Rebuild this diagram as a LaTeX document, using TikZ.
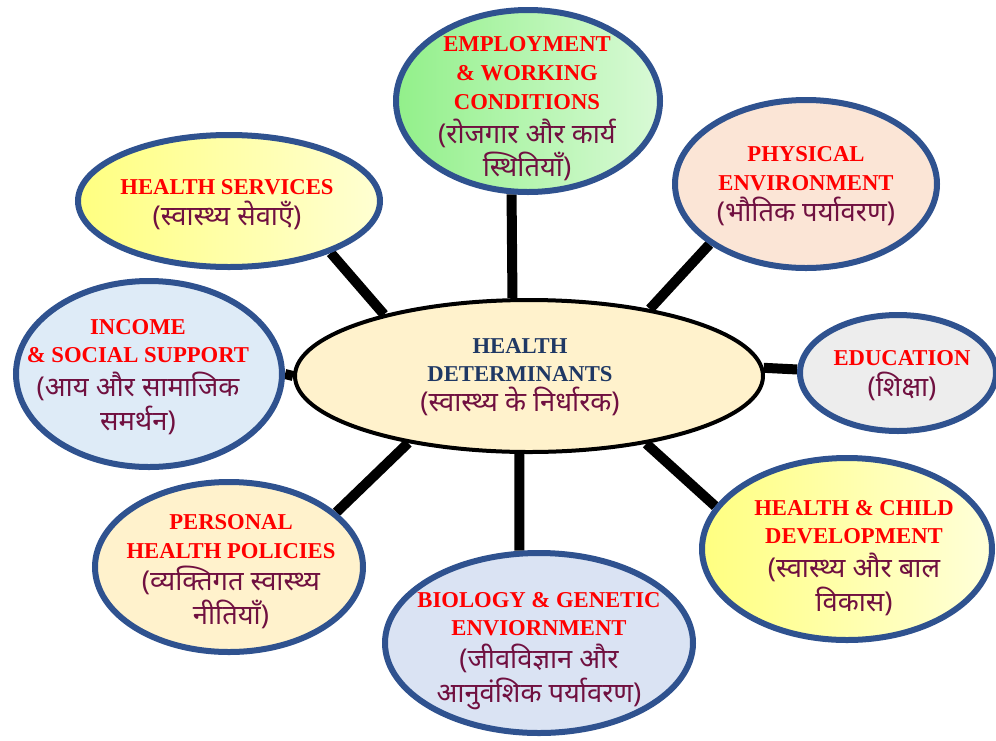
\documentclass[tikz,border=0pt]{standalone}
\usepackage{fontspec}
\setmainfont{Liberation Serif}
\newfontfamily\hindifont[Script=Devanagari]{Noto Sans}
\usepackage{tikz}
\usetikzlibrary{shapes.geometric, backgrounds}

\definecolor{rimblue}{RGB}{47,82,143}
\definecolor{hinditxt}{RGB}{112,16,64}
\definecolor{navytxt}{RGB}{31,56,100}
\definecolor{creamfill}{RGB}{255,242,204}
\definecolor{peachfill}{RGB}{251,229,214}
\definecolor{greyfill}{RGB}{237,237,237}
\definecolor{paleblue}{RGB}{218,227,243}
\definecolor{iceblue}{RGB}{222,235,247}
\definecolor{leafgreen}{RGB}{146,240,138}
\definecolor{lemon}{RGB}{255,255,128}

\newcommand{\entxt}[1]{{\bfseries\color{red}#1}}
\newcommand{\hubtxt}[1]{{\bfseries\color{navytxt}#1}}
\newcommand{\hitxt}[1]{{\fontsize{20.5}{22}\selectfont\hindifont\color{hinditxt}#1}}

\begin{document}
\begin{tikzpicture}[x=0.75pt, y=-0.75pt,
    ell/.style 2 args={minimum width=#1*0.75pt, minimum height=#2*0.75pt},
    factor/.style={ellipse, draw=rimblue, line width=4.5pt, inner sep=0pt},
    hub/.style={ellipse, draw=black, line width=3pt, fill=creamfill, inner sep=0pt},
    words/.style={align=center, inner sep=0pt, font=\fontsize{17}{21.4}\selectfont},
    spoke/.style={line width=7.5pt, black}]
    \useasboundingbox (0,0) rectangle (996,740);

    \node[hub, ell={468}{152}] at (529,376) (hd) {};

    \node[factor, left color=leafgreen, right color=leafgreen!35!white, ell={264}{182}] at (528,101) (emp) {};
    \node[factor, left color=lemon, right color=lemon!35!white, ell={302}{132}] at (229,201) (hs) {};
    \node[factor, fill=peachfill, ell={262}{168}] at (806,184) (phys) {};
    \node[factor, fill=iceblue, ell={266}{186}] at (149,374) (inc) {};
    \node[factor, fill=greyfill, ell={196}{116}] at (898,373) (edu) {};
    \node[factor, left color=lemon, right color=lemon!30!white, ell={290}{182}] at (847,549) (hc) {};
    \node[factor, fill=creamfill, ell={268}{170}] at (229,567) (pol) {};
    \node[factor, fill=paleblue, ell={308}{180}] at (539,643) (bio) {};

    % texts
    \node[words] at (520,377) (hdtxt)
        {\hubtxt{HEALTH}\\\hubtxt{DETERMINANTS}\\[1pt]\hitxt{(स्वास्थ्य के निर्धारक)}};
    \node[words] at (527,109) (emptxt)
        {\entxt{EMPLOYMENT}\\\entxt{\& WORKING}\\\entxt{CONDITIONS}\\[4.5pt]\hitxt{(रोजगार और कार्य}\\[2.3pt]\hitxt{स्थितियाँ)}};
    \node[words] at (227,205) (hstxt)
        {\entxt{HEALTH SERVICES}\\[2pt]\hitxt{(स्वास्थ्य सेवाएँ)}};
    \node[words] at (806,186) (phystxt)
        {\entxt{PHYSICAL}\\\entxt{ENVIRONMENT}\\[2pt]\hitxt{(भौतिक पर्यावरण)}};
    \node[words] at (138,377) (inctxt)
        {\entxt{INCOME}\\\entxt{\& SOCIAL SUPPORT}\\[3.5pt]\hitxt{(आय और सामाजिक}\\[3pt]\hitxt{समर्थन)}};
    \node[words] at (902,376) (edutxt)
        {\entxt{EDUCATION}\\[2pt]\hitxt{(शिक्षा)}};
    \node[words] at (854,558) (hctxt)
        {\entxt{HEALTH \& CHILD}\\\entxt{DEVELOPMENT}\\[3.5pt]\hitxt{(स्वास्थ्य और बाल}\\[3pt]\hitxt{विकास)}};
    \node[words] at (231,572) (poltxt)
        {\entxt{PERSONAL}\\\entxt{HEALTH POLICIES}\\[3pt]\hitxt{(व्यक्तिगत स्वास्थ्य}\\[3pt]\hitxt{नीतियाँ)}};
    \node[words] at (539,651) (biotxt)
        {\entxt{BIOLOGY \& GENETIC}\\\entxt{ENVIORNMENT}\\[3pt]\hitxt{(जीवविज्ञान और}\\[3pt]\hitxt{आनुवंशिक पर्यावरण)}};

    % spokes behind the ellipses
    \begin{scope}[on background layer]
        \draw[spoke] (emp.-100) -- (hd.102);
        \draw[spoke] (hs.-27) -- (hd.157);
        \draw[spoke] (phys.-148) -- (hd.29);
        \draw[spoke] (inc.0) -- (hd.180);
        \draw[spoke] (edu.178) -- (hd.2);
        \draw[spoke] (hc.162) -- (hd.-30);
        \draw[spoke] (pol.27) -- (hd.-151);
        \draw[spoke] (bio.102) -- (hd.-97);
    \end{scope}
\end{tikzpicture}
\end{document}
